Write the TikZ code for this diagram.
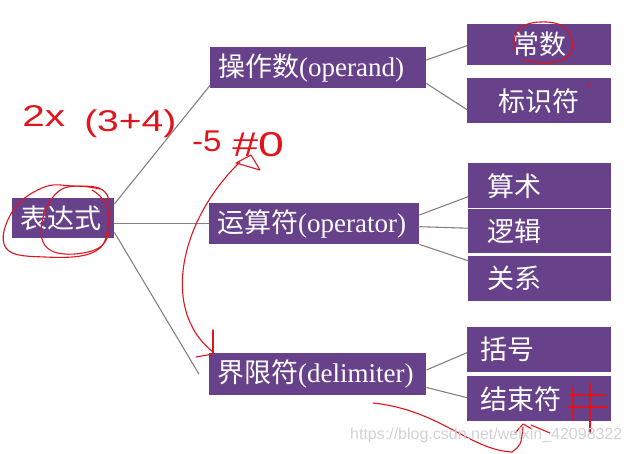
\documentclass[tikz,border=0pt]{standalone}
\usepackage{fontspec}
\setmainfont{Liberation Serif}
\newfontfamily\cjk{Noto Sans CJK SC}
\newfontfamily\handfont{Liberation Sans}
\usetikzlibrary{calc}
\definecolor{purp}{RGB}{103,65,138}
\definecolor{lnk}{RGB}{130,130,130}
\definecolor{ink}{RGB}{225,20,30}
\begin{document}
\begin{tikzpicture}[x=1pt,y=-1pt,
  box/.style={fill=purp, text=white, anchor=north west, inner ysep=0pt, font=\fontsize{27}{30}\selectfont, align=left},
  cbox/.style={fill=purp, text=white, anchor=north west, inner sep=0pt, font=\fontsize{27}{30}\selectfont, align=center},
  link/.style={draw=lnk, line width=1.1pt},
  pen/.style={draw=ink, line width=1.1pt, line cap=round, line join=round},
  hand/.style={text=ink, font=\handfont\fontsize{30}{32}\selectfont, inner sep=0pt, anchor=south west}]
\useasboundingbox (0,0) rectangle (631,453);
% boxes
\node[box, inner xsep=8pt, text width=86pt, minimum height=40pt] (expr) at (12,198) {\cjk 表达式};
\node[box, inner xsep=8pt, text width=200pt, minimum height=41pt] (opd) at (210,47) {{\cjk 操作数}(operand)};
\node[box, inner xsep=8pt, text width=194pt, minimum height=41pt] (opr) at (209,203) {{\cjk 运算符}(operator)};
\node[box, inner xsep=8pt, text width=201pt, minimum height=42pt] (dlm) at (209,353) {{\cjk 界限符}(delimiter)};
\node[cbox, minimum width=144pt, minimum height=41pt] (const) at (467,24) {\cjk 常数};
\node[cbox, minimum width=144pt, minimum height=45pt] (ident) at (467,78) {\cjk 标识符};
\node[box, inner xsep=19pt, text width=105pt, minimum height=45pt] (arith) at (468,163) {\cjk 算术};
\node[box, inner xsep=19pt, text width=105pt, minimum height=44pt] (logic) at (468,209) {\cjk 逻辑};
\node[box, inner xsep=19pt, text width=105pt, minimum height=45pt] (rel) at (468,256) {\cjk 关系};
\node[box, inner xsep=13pt, text width=118pt, minimum height=45pt] (brk) at (467,327) {\cjk 括号};
\node[box, inner xsep=13pt, text width=118pt, minimum height=45pt] (endc) at (467,376) {\cjk 结束符};
% connectors
\draw[link] ($(expr.north east)+(0,6)$) -- ($(opd.south west)+(0,-3)$);
\draw[link] (opr.west -| expr.east) -- (opr.west);
\draw[link] ($(expr.south east)+(0,-6)$) -- ($(dlm.west)+(-10,0)$);
\draw[link] ($(opd.north east)+(0,13)$) -- ($(const.west)+(0,1)$);
\draw[link] ($(opd.south east)+(0,-5)$) -- ($(ident.west)+(0,9)$);
\draw[link] ($(opr.north east)+(0,12)$) -- ($(arith.west)+(0,11)$);
\draw[link] ($(opr.west -| opr.east)+(0,3)$) -- ($(logic.west)+(0,-3)$);
\draw[link] (opr.south east) -- ($(rel.west)+(0,-18)$);
\draw[link] ($(dlm.north east)+(0,17)$) -- ($(brk.west)+(0,3)$);
\draw[link] ($(dlm.south east)+(0,-8)$) -- ($(endc.west)+(0,-1)$);
% handwriting
\node[hand, xscale=1.35] (h1) at (22,127) {2x};
\node[hand, xscale=1.3] (h2) at (84,138) {(3+4)};
\node[hand, xscale=1.1] (h3) at (192,152) {-5};
\node[hand, xscale=1.55, yscale=1.15] (h4) at (232,157) {\#0};
\draw[pen] plot[smooth cycle, tension=0.7] coordinates {(42,188) (12,212) (6,248) (45,257) (94,252) (108,226) (105,192) (72,186)};
\draw[pen] plot[smooth, tension=0.7] coordinates {(100,189) (62,189) (42,222) (50,250) (88,252) (108,236) (106,205) (92,190)};
\draw[pen] plot[smooth, tension=0.7] coordinates {(514,50) (518,30) (540,22) (565,28) (572,50) (555,62) (522,60)};
\draw[pen] (236,163) -- (251,155) -- (260,170) -- cycle;
\draw[pen] (240,162) .. controls (180,220) and (160,310) .. (213,352);
\draw[pen] (213,330) -- (213,353);
\draw[pen] (196,357) -- (213,354);
\draw[pen] (373,403) .. controls (440,410) and (470,450) .. (512,452) .. controls (521,445) .. (523,427);
\draw[pen] (515,433) -- (523,424) -- (532,429);
\draw[pen] (531,425) -- (550,433);
\draw[pen] (573,387) -- (573,420);
\draw[pen] (590,383) -- (590,433);
\draw[pen] (570,395) -- (605,395);
\draw[pen] (568,407) -- (607,407);
\fill[ink] (589,85) circle (1.5);
% watermark
\node[anchor=west, inner sep=0pt, text=gray!35, font=\handfont\fontsize{16}{17}\selectfont] (wm) at (350,435) {https://blog.csdn.net/weixin\_42098322};
\end{tikzpicture}
\end{document}
